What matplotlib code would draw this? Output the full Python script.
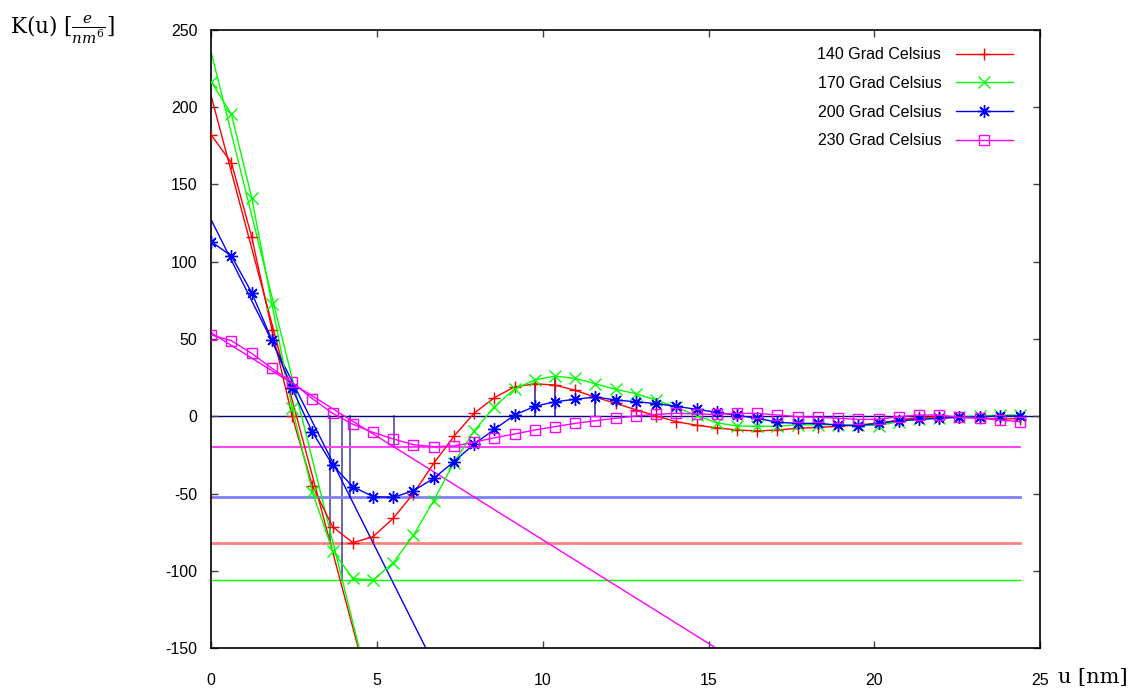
import numpy as np
import matplotlib
matplotlib.use("Agg")
import matplotlib.pyplot as plt

plt.rcParams['font.family'] = ['Liberation Sans', 'DejaVu Sans']
plt.rcParams['mathtext.fontset'] = 'dejavuserif'
plt.rcParams['axes.unicode_minus'] = False

# correlation distance u [nm]
u = [0.0, 0.61, 1.22, 1.83, 2.44, 3.05, 3.66, 4.27, 4.88, 5.49,
     6.1, 6.71, 7.32, 7.93, 8.54, 9.15, 9.76, 10.37, 10.98, 11.59,
     12.2, 12.81, 13.42, 14.03, 14.64, 15.25, 15.86, 16.47, 17.08, 17.69,
     18.3, 18.91, 19.52, 20.13, 20.74, 21.35, 21.96, 22.57, 23.18, 23.79,
     24.4]

k140 = [182, 164, 116, 56, 0, -45, -71.5, -81.8, -78, -66,
        -50, -30.5, -13, 2, 12, 19, 21, 20.2, 16.8, 12.3,
        8.4, 4.2, 0.2, -3.5, -5.8, -7.5, -8.9, -9.5, -8.9, -7.8,
        -7.2, -6.5, -5.6, -4.5, -2.4, -0.8, -0.3, -0.6, -1.2, -1.8,
        -1.5]
k170 = [216.5, 195.4, 141.5, 72.7, 5.5, -49, -87, -105, -106, -94.8,
        -77, -54.6, -30, -9.5, 6.2, 17.7, 23.5, 26, 24.5, 21,
        17.4, 14.6, 10.5, 5.8, 0.5, -4.2, -6.3, -6.5, -6.5, -5.5,
        -5.5, -5.5, -5.8, -6, -3.5, -2, -1.3, -0.3, 0.2, 0.8,
        0.8]
k200 = [113, 103.7, 80, 49.3, 18, -10.2, -31.6, -45.6, -52, -52.5,
        -48.2, -40.2, -29.4, -18, -8.5, 0.8, 6.4, 9.4, 11, 12.5,
        10.5, 9.4, 8.2, 6.4, 4.5, 2.6, 0.6, -1.3, -3.9, -4.6,
        -4.6, -5.7, -6.1, -4.6, -2.9, -2, -1.3, -0.7, -0.3, 0.2,
        0.2]
k230 = [52.6, 48.9, 40.7, 31, 22, 11.4, 1.9, -5.2, -10.4, -14.7,
        -18.4, -19.7, -19.2, -16.8, -13.9, -11.5, -8.9, -6.7, -4.6, -2.9,
        -1.3, 0.2, 1.2, 1.9, 1.5, 1.2, 1.9, 1.9, 0.8, -0.3,
        -0.7, -1.3, -2, -2, -0.3, 0.8, 0.8, -0.7, -1.3, -2.4,
        -3.5]

labels = ['140 Grad Celsius', '170 Grad Celsius', '200 Grad Celsius', '230 Grad Celsius']
colors = ['#ff0000', '#00ff00', '#0000ff', '#ff00ff']
markers = ['+', 'x', (8, 2, 0), 's']
msizes = [9, 8, 9, 7]

# tangents at u=0: K(u) = a - b*u
tan_a = [207, 235.5, 127, 54]
tan_b = [80.5, 86.4, 42.8, 13.4]

# baseline (minimum) line styles
base_colors = ['#ff8080', '#00ff00', '#8080ff', '#ff44ff']
base_lw = [2, 1, 2, 1.5]

series = [k140, k170, k200, k230]

fig = plt.figure(figsize=(11.37, 6.91), dpi=100)
ax = fig.add_axes([0.1858, 0.0622, 0.7289, 0.8944])

ax.axhline(0, color='#000080', lw=1, zorder=1)

uu = np.array(u)
for i, k in enumerate(series):
    k = np.array(k)
    kmin = k.min()
    ax.plot([uu[0], uu[-1]], [kmin, kmin], color=base_colors[i], lw=base_lw[i], zorder=1)
    xt = np.array([0, 25])
    ax.plot(xt, tan_a[i] - tan_b[i] * xt, color=colors[i], lw=1, zorder=2)
    # intersection of tangent and baseline
    xs = (tan_a[i] - kmin) / tan_b[i]
    ax.plot([xs, xs], [0, kmin], color='#000080', lw=1.2, alpha=0.7, zorder=1)
    if i < 3:
        imin = int(np.argmin(k))
        imax = imin + int(np.argmax(k[imin:]))
        ax.plot([uu[imax], uu[imax]], [0, k[imax]], color='#000080', lw=1.2, alpha=0.8, zorder=1)

for i, k in enumerate(series):
    mfc = 'none' if markers[i] == 's' else colors[i]
    ax.plot(u, k, color=colors[i], lw=1, marker=markers[i], ms=msizes[i],
            mec=colors[i], mfc=mfc, mew=1, label=labels[i], zorder=3)

ax.set_xlim(0, 25)
ax.set_ylim(-150, 250)
ax.set_xticks([0, 5, 10, 15, 20, 25])
ax.set_yticks(np.arange(-150, 251, 50))
ax.tick_params(direction='in', length=5, width=1, color='#404040', top=True, right=True,
               labelsize=11.5)
ax.tick_params(axis='x', pad=18)
ax.tick_params(axis='y', pad=10)
for s in ax.spines.values():
    s.set_linewidth(1.2)

ax.legend(loc='upper right', bbox_to_anchor=(0.985, 0.995), frameon=False, markerfirst=False,
          fontsize=11.5, handlelength=3.6, handletextpad=0.9, labelspacing=0.85)

fig.text(10 / 1137, 1 - 30 / 691, r'K(u) $[\frac{e}{nm^6}]$', family='DejaVu Serif',
         fontsize=15.5, va='center', ha='left')
fig.text(1058 / 1137, 1 - 677 / 691, 'u [nm]', family='DejaVu Serif',
         fontsize=15, va='center', ha='left')

fig.savefig('out.png', dpi=100)
